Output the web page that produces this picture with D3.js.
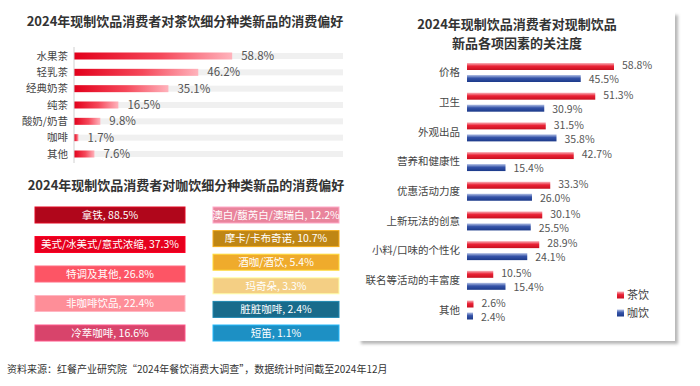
<!DOCTYPE html>
<html lang="zh">
  <head>
    <meta charset="UTF-8" />
    <title>2024年现制饮品消费者新品偏好</title>
    <script src="https://d3js.org/d3.v7.min.js"></script>
    <style>
      body { margin: 0; background: #fff; }
      svg { font-family: "Liberation Sans Narrow", "Noto Sans CJK SC", sans-serif; }
    </style>
  </head>
  <body>
    <div id="chart"></div>

    <script>
      // tea sub-categories
      const teaCats = ["水果茶", "轻乳茶", "经典奶茶", "纯茶", "酸奶/奶昔", "咖啡", "其他"];
      const teaVals = [58.8, 46.2, 35.1, 16.5, 9.8, 1.7, 7.6];

      // coffee sub-categories (two columns)
      const coffeeLeft = ["拿铁", "美式/冰美式/意式浓缩", "特调及其他", "非咖啡饮品", "冷萃咖啡"];
      const coffeeLeftVals = [88.5, 37.3, 26.8, 22.4, 16.6];
      const coffeeLeftColors = ["#b0061b", "#e6001d", "#fd5565", "#fe8e98", "#d8446b"];
      const coffeeRight = ["澳白/馥芮白/澳瑞白", "摩卡/卡布奇诺", "酒咖/酒饮", "玛奇朵", "脏脏咖啡", "短笛"];
      const coffeeRightVals = [12.2, 10.7, 5.4, 3.3, 2.4, 1.1];
      const coffeeRightColors = ["#e9849c", "#bf8614", "#efab2c", "#f4cf84", "#186b8b", "#1d90c4"];

      // factors of attention
      const factors = ["价格", "卫生", "外观出品", "营养和健康性", "优惠活动力度", "上新玩法的创意", "小料/口味的个性化", "联名等活动的丰富度", "其他"];
      const factorTea = [58.8, 51.3, 31.5, 42.7, 33.3, 30.1, 28.9, 10.5, 2.6];
      const factorCoffee = [45.5, 30.9, 35.8, 15.4, 26.0, 25.5, 24.1, 15.4, 2.4];
      const seriesNames = ["茶饮", "咖饮"];

      const W = 700, H = 386;
      const svg = d3.select("#chart").append("svg").attr("width", W).attr("height", H);
      const defs = svg.append("defs");

      // gradients
      const gTea = defs.append("linearGradient").attr("id", "gTea");
      gTea.append("stop").attr("offset", "0%").attr("stop-color", "#e2001b");
      gTea.append("stop").attr("offset", "55%").attr("stop-color", "#f5485a");
      gTea.append("stop").attr("offset", "100%").attr("stop-color", "#ffb3bc");

      function vGrad(id, light, mid, dark) {
        const g = defs.append("linearGradient").attr("id", id)
          .attr("x1", 0).attr("y1", 0).attr("x2", 0).attr("y2", 1);
        g.append("stop").attr("offset", "0%").attr("stop-color", light);
        g.append("stop").attr("offset", "45%").attr("stop-color", mid);
        g.append("stop").attr("offset", "100%").attr("stop-color", dark);
      }
      vGrad("gRed", "#f9b4bb", "#ea2236", "#c8101f");
      vGrad("gBlue", "#b4c2e6", "#3553a8", "#1c3a8a");

      const shadow = defs.append("filter").attr("id", "shadow")
        .attr("x", "-5%").attr("y", "-5%").attr("width", "115%").attr("height", "115%");
      shadow.append("feDropShadow").attr("dx", 3).attr("dy", 3)
        .attr("stdDeviation", 1.5).attr("flood-color", "#888").attr("flood-opacity", 0.6);

      // ---------- factor panel background ----------
      svg.append("rect").attr("x", 358).attr("y", 12).attr("width", 317).attr("height", 329)
        .attr("fill", "#fff").attr("filter", "url(#shadow)");

      // ---------- tea chart ----------
      svg.append("text").attr("x", 185).attr("y", 26).attr("text-anchor", "middle")
        .attr("font-size", 13).attr("font-weight", "bold").attr("fill", "#333")
        .style("font-family", "'Noto Sans CJK SC'")
        .text("2024年现制饮品消费者对茶饮细分种类新品的消费偏好");

      const xTea = d3.scaleLinear().domain([0, 100]).range([74, 343]);
      const yTea = d3.scalePoint().domain(teaCats).range([56, 154]);
      const teaData = teaCats.map((c, i) => ({ c, v: teaVals[i] }));

      svg.append("g").selectAll("rect").data(teaData).join("rect")
        .attr("x", xTea(0)).attr("y", d => yTea(d.c) - 3)
        .attr("width", xTea(100) - xTea(0)).attr("height", 6)
        .attr("fill", "#f0f0f0");

      svg.append("g").selectAll("rect").data(teaData).join("rect")
        .attr("x", xTea(0)).attr("y", d => yTea(d.c) - 3.5)
        .attr("width", d => xTea(d.v) - xTea(0)).attr("height", 7)
        .attr("fill", "url(#gTea)");

      svg.append("line").attr("x1", 74).attr("x2", 74).attr("y1", 47).attr("y2", 163)
        .attr("stroke", "#d0d0d0");

      svg.append("g").selectAll("text").data(teaData).join("text")
        .attr("x", 68).attr("y", d => yTea(d.c)).attr("dy", "0.35em")
        .attr("text-anchor", "end").attr("font-size", 10.5).attr("fill", "#444")
        .text(d => d.c);

      svg.append("g").selectAll("text").data(teaData).join("text")
        .attr("x", d => xTea(d.v) + 9).attr("y", d => yTea(d.c)).attr("dy", "0.35em")
        .attr("font-size", 11.5).attr("fill", "#555")
        .text(d => d.v.toFixed(1) + "%");

      // ---------- coffee blocks ----------
      svg.append("text").attr("x", 186).attr("y", 190).attr("text-anchor", "middle")
        .attr("font-size", 13).attr("font-weight", "bold").attr("fill", "#333")
        .style("font-family", "'Noto Sans CJK SC'")
        .text("2024年现制饮品消费者对咖饮细分种类新品的消费偏好");

      function blocks(names, vals, colors, x0, w) {
        const y = d3.scalePoint().domain(names).range([215, 333]);
        const data = names.map((n, i) => ({ n, v: vals[i], col: colors[i] }));
        const g = svg.append("g").selectAll("g").data(data).join("g")
          .attr("transform", d => `translate(${x0},${y(d.n) - 8})`);
        g.append("rect").attr("width", w).attr("height", 16)
          .attr("fill", d => d.col)
          .attr("stroke", d => d3.color(d.col).brighter(0.7)).attr("stroke-width", 1);
        g.append("text").attr("x", w / 2).attr("y", 8).attr("dy", "0.36em")
          .attr("text-anchor", "middle").attr("font-size", 10.5).attr("fill", "#fff")
          .text(d => `${d.n}, ${d.v.toFixed(1)}%`);
      }
      blocks(coffeeLeft, coffeeLeftVals, coffeeLeftColors, 35, 150);
      blocks(coffeeRight, coffeeRightVals, coffeeRightColors, 213, 126);

      // ---------- factor chart ----------
      svg.append("g").selectAll("text")
        .data(["2024年现制饮品消费者对现制饮品", "新品各项因素的关注度"]).join("text")
        .attr("x", 517).attr("y", (d, i) => 29 + i * 18.5).attr("text-anchor", "middle")
        .attr("font-size", 13).attr("font-weight", "bold").attr("fill", "#333")
        .style("font-family", "'Noto Sans CJK SC'")
        .text(d => d);

      const xF = d3.scaleLinear().domain([0, 100]).range([467, 717]);
      const yF = d3.scalePoint().domain(factors).range([72.5, 310]);
      const fData = factors.map((f, i) => ({ f, tea: factorTea[i], coffee: factorCoffee[i] }));

      const grp = svg.append("g").selectAll("g").data(fData).join("g")
        .attr("transform", d => `translate(0,${yF(d.f)})`);

      grp.append("text").attr("x", 460).attr("y", 0).attr("dy", "0.35em")
        .attr("text-anchor", "end").attr("font-size", 10.5).attr("fill", "#444")
        .text(d => d.f);

      grp.append("rect").attr("x", xF(0)).attr("y", -9.5)
        .attr("width", d => xF(d.tea) - xF(0)).attr("height", 7)
        .attr("fill", "url(#gRed)");
      grp.append("rect").attr("x", xF(0)).attr("y", 2.5)
        .attr("width", d => xF(d.coffee) - xF(0)).attr("height", 7)
        .attr("fill", "url(#gBlue)");

      grp.append("text").attr("x", d => xF(d.tea) + 8).attr("y", -7).attr("dy", "0.35em")
        .attr("font-size", 10.5).attr("fill", "#555").text(d => d.tea.toFixed(1) + "%");
      grp.append("text").attr("x", d => xF(d.coffee) + 8).attr("y", 7).attr("dy", "0.35em")
        .attr("font-size", 10.5).attr("fill", "#555").text(d => d.coffee.toFixed(1) + "%");

      // legend
      const leg = svg.append("g").selectAll("g").data(seriesNames).join("g")
        .attr("transform", (d, i) => `translate(617,${295 + i * 18})`);
      leg.append("rect").attr("x", 0).attr("y", -3.5).attr("width", 7).attr("height", 7)
        .attr("fill", (d, i) => (i === 0 ? "url(#gRed)" : "url(#gBlue)"));
      leg.append("text").attr("x", 10).attr("y", 0).attr("dy", "0.35em")
        .attr("font-size", 11).attr("fill", "#444").text(d => d);

      // source
      svg.append("text").attr("x", 7).attr("y", 373)
        .attr("font-size", 10).attr("fill", "#333")
        .style("font-family", "'Noto Sans CJK SC'")
        .text("资料来源：红餐产业研究院“2024年餐饮消费大调查”，数据统计时间截至2024年12月");
    </script>
  </body>
</html>
